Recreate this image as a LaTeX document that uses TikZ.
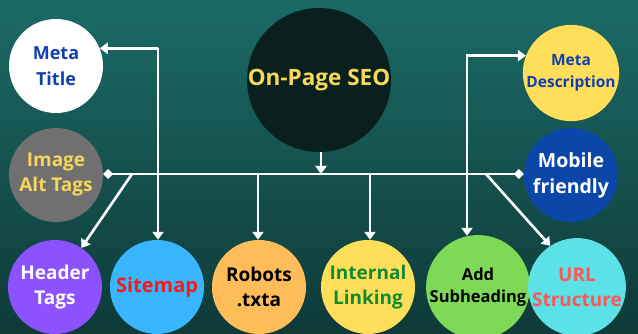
\documentclass[tikz,border=0pt]{standalone}
\usepackage{fontspec}
\setmainfont{Open Sans}
\usetikzlibrary{arrows.meta}
\definecolor{bgtop}{RGB}{27,106,102}
\definecolor{bgbot}{RGB}{14,58,56}
\definecolor{seofill}{RGB}{10,32,31}
\definecolor{seotext}{RGB}{247,216,88}
\definecolor{dblue}{RGB}{16,64,176}
\definecolor{ylw}{RGB}{255,222,89}
\definecolor{ylwtext}{RGB}{247,214,90}
\definecolor{gry}{RGB}{112,112,112}
\definecolor{mblue}{RGB}{10,71,169}
\definecolor{purp}{RGB}{140,82,255}
\definecolor{lblue}{RGB}{56,182,255}
\definecolor{redtxt}{RGB}{255,22,22}
\definecolor{orng}{RGB}{255,189,89}
\definecolor{grntxt}{RGB}{20,138,46}
\definecolor{grn}{RGB}{126,217,87}
\definecolor{cyn}{RGB}{92,225,230}
\definecolor{salmon}{RGB}{255,87,87}
\begin{document}
\begin{tikzpicture}[x=1pt,y=-1pt,
  bub/.style={circle, minimum size=94pt, inner sep=0pt, align=center,
    font=\bfseries\fontsize{19}{25}\selectfont},
  conn/.style={draw=white, line width=2.6pt, -{Triangle[length=8pt,width=11pt]}},
  conn2/.style={draw=white, line width=2.6pt, {Triangle[length=8pt,width=11pt]}-{Triangle[length=8pt,width=11pt]}},
  bar/.style={draw=white, line width=2.6pt, {Diamond[length=10pt,width=10pt]}-{Diamond[length=10pt,width=10pt]}}]
\shade[top color=bgtop,bottom color=bgbot] (0,0) rectangle (638,334);
\useasboundingbox (0,0) rectangle (638,334);

\node[bub, minimum size=144pt, fill=seofill, text=seotext, font=\bfseries\fontsize{22.5}{28}\selectfont] (seo) at (319,80) {On-Page SEO};
\node[bub, fill=white, text=dblue, font=\bfseries\fontsize{18}{26}\selectfont] (mtitle) at (56,66) {Meta\\Title};
\node[bub, fill=gry, text=ylwtext] (imgalt) at (56,175) {Image\\Alt Tags};
\node[bub, fill=ylw, text=dblue, font=\bfseries\fontsize{15.5}{22}\selectfont] (mdesc) at (571,73) {Meta\\Description};
\node[bub, fill=mblue, text=white, font=\bfseries\fontsize{19.5}{26}\selectfont] (mobile) at (571,175) {Mobile\\friendly};

\node[bub, fill=purp, text=white] (header) at (55,287) {Header\\Tags};
\node[bub, fill=lblue, text=redtxt, font=\bfseries\fontsize{20}{25}\selectfont] (sitemap) at (157,287) {Sitemap};
\node[bub, fill=orng, text=black] (robots) at (259,287) {Robots\\.txta};
\node[bub, fill=ylw, text=grntxt] (internal) at (368,287) {Internal\\Linking};
\node[bub, fill=grn, text=black, font=\bfseries\fontsize{16.5}{22}\selectfont] (addsub) at (478,287) {Add\\Subheading};
\node[bub, fill=cyn, text=salmon] (url) at (577,287) {URL\\Structure};

\coordinate (c1) at (158,48);
\coordinate (c2) at (467,56);
\coordinate (j0) at (321,174);
\coordinate (jh) at (132,174);
\coordinate (jr) at (258,174);
\coordinate (ji) at (370,174);
\coordinate (ju) at (486,174);

\draw[bar] (imgalt.east |- j0) -- (mobile.west |- j0);
\draw[conn] (seo.south -| j0) -- (j0);
\draw[conn2] (mtitle.22) -- (mtitle.22 -| c1) -- (c1) -- (sitemap.north -| c1);
\draw[conn2] (mdesc.159) -- (mdesc.159 -| c2) -- (c2) -- (addsub.101 -| c2);
\draw[conn] (jh) -- (header.56);
\draw[conn] (jr) -- (robots.north -| jr);
\draw[conn] (ji) -- (internal.north -| ji);
\draw[conn] (ju) -- (url.123);
\end{tikzpicture}
\end{document}
